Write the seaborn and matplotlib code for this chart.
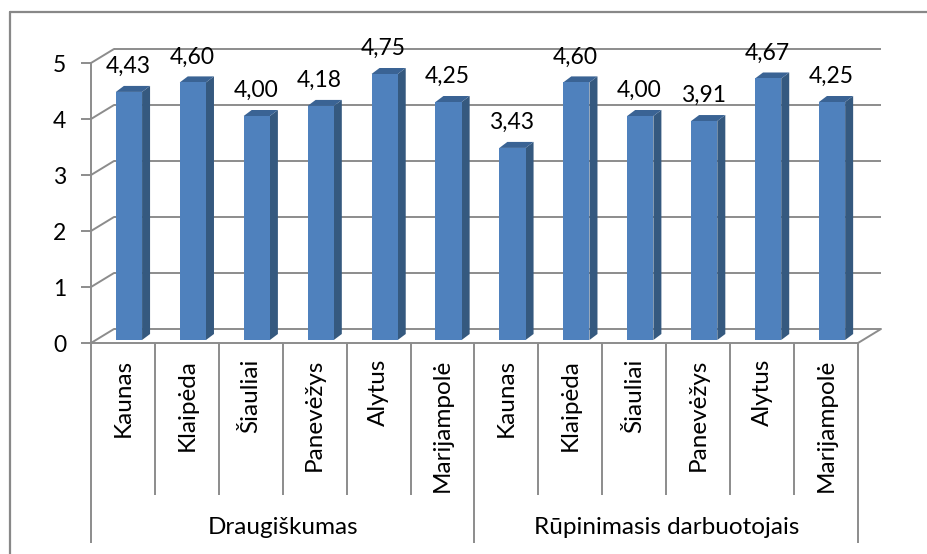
import numpy as np
import pandas as pd
import matplotlib
matplotlib.use("Agg")
import matplotlib.pyplot as plt
import seaborn as sns
from matplotlib.transforms import ScaledTranslation, blended_transform_factory
from matplotlib.patches import Polygon
from matplotlib.lines import Line2D

# ---- data -------------------------------------------------------------
groups = ["Draugiškumas", "Rūpinimasis darbuotojais"]
cities = ["Kaunas", "Klaipėda", "Šiauliai", "Panevėžys", "Alytus", "Marijampolė"]
draugiskumas = [4.43, 4.60, 4.00, 4.18, 4.75, 4.25]
rupinimasis = [3.43, 4.60, 4.00, 3.91, 4.67, 4.25]
y_ticks = [0, 1, 2, 3, 4, 5]

# ---- style ------------------------------------------------------------
W, H, DPI = 927, 554, 100
FRONT = "#4F81BD"
SIDE = "#35597F"
TOP = "#3A6394"
GRID = "#8C8C8C"
FS_NUM = 16.5
FS_TXT = 17.5

sns.set_theme(style="white")
plt.rcParams["font.family"] = ["Lato", "DejaVu Sans"]

df = pd.DataFrame({
    "group": np.repeat(groups, len(cities)),
    "city": cities * len(groups),
    "value": draugiskumas + rupinimasis,
})
df["key"] = df["group"] + " / " + df["city"]
n = len(df)

fig = plt.figure(figsize=(W / DPI, H / DPI), dpi=DPI)
fig.patch.set_facecolor("white")

# front plane of the 3-D box, in pixels
X0, X1, Y0, Y1 = 91, 858, 343, 63
ax = fig.add_axes([X0 / W, 1 - Y0 / H, (X1 - X0) / W, (Y0 - Y1) / H])
ax.patch.set_alpha(0)


def px(dx, dy):
    """Offset by a number of pixels (right, up)."""
    return ScaledTranslation(dx / DPI, dy / DPI, fig.dpi_scale_trans)


sns.barplot(data=df, x="key", y="value", color=FRONT, saturation=1,
            width=0.41, errorbar=None, ax=ax, zorder=5)
ax.set_xlim(-0.5, n - 0.5)
ax.set_ylim(y_ticks[0], y_ticks[-1])

# depth of the box (back wall offset) and of each column
DEPTH = (23, 14)
BAR_SHIFT = (6, 3)
BAR_DEPTH = (8, 6)
px_per_x = (X1 - X0) / n
px_per_y = (Y0 - Y1) / (y_ticks[-1] - y_ticks[0])
ddx = BAR_DEPTH[0] / px_per_x
ddy = BAR_DEPTH[1] / px_per_y

line_kw = dict(color=GRID, lw=1.4, clip_on=False, solid_capstyle="butt")

# back wall gridlines
for v in y_ticks:
    ax.plot([-0.5, n - 0.5], [v, v], transform=ax.transData + px(*DEPTH),
            zorder=1, **line_kw)
    # side wall diagonals
    ax.annotate("", xy=(-0.5, v), xytext=DEPTH, textcoords="offset pixels",
                arrowprops=dict(arrowstyle="-", color=GRID, lw=1.4,
                                shrinkA=0, shrinkB=0), zorder=1)
# right edge of the floor
ax.annotate("", xy=(n - 0.5, 0), xytext=DEPTH, textcoords="offset pixels",
            arrowprops=dict(arrowstyle="-", color=GRID, lw=1.4,
                            shrinkA=0, shrinkB=0), zorder=1)

# columns: shift the front faces into the box and add side / top faces
bar_trans = ax.transData + px(*BAR_SHIFT)
for p, v in zip(ax.patches, df["value"]):
    p.set_transform(bar_trans)
    p.set_linewidth(0)
    x0 = p.get_x()
    x1 = x0 + p.get_width()
    h = p.get_height()
    side = Polygon([(x1, 0), (x1 + ddx, ddy), (x1 + ddx, h + ddy), (x1, h)],
                   closed=True, facecolor=SIDE, edgecolor="none",
                   transform=bar_trans, zorder=4)
    top = Polygon([(x0, h), (x1, h), (x1 + ddx, h + ddy), (x0 + ddx, h + ddy)],
                  closed=True, facecolor=TOP, edgecolor="none",
                  transform=bar_trans, zorder=4)
    ax.add_patch(side)
    ax.add_patch(top)
    ax.annotate(f"{v:.2f}".replace(".", ","), xy=(x0 + p.get_width() / 2, h),
                xytext=(BAR_SHIFT[0] - 1, BAR_SHIFT[1] + 19),
                textcoords="offset pixels", ha="center", va="baseline",
                fontsize=FS_NUM, color="black", zorder=6)

# axes frame
for s in ("top", "right"):
    ax.spines[s].set_visible(False)
for s in ("left", "bottom"):
    ax.spines[s].set_color(GRID)
    ax.spines[s].set_linewidth(1.4)
    ax.spines[s].set_zorder(2)

ax.set_yticks(y_ticks, labels=[str(t) for t in y_ticks])
ax.tick_params(axis="y", length=10 * 72 / DPI, width=1.4, color=GRID,
               pad=15 * 72 / DPI, labelsize=FS_NUM, labelcolor="black", left=True)
ax.set_xticks(range(n), labels=cities * len(groups), rotation=90)
ax.tick_params(axis="x", length=0, pad=16 * 72 / DPI, labelsize=FS_TXT,
               labelcolor="black")
ax.set_xlabel("")
ax.set_ylabel("")

# category dividers and group labels below the axis
div_trans = blended_transform_factory(ax.transData, fig.transFigure)
group_bounds = [-0.5 + len(cities) * i for i in range(len(groups) + 1)]
for xb in np.arange(-0.5, n, 1.0):
    y_end = 543 if xb in group_bounds else 495
    ax.plot([xb, xb], [1 - Y0 / H, 1 - y_end / H], transform=div_trans, **line_kw)
for i, g in enumerate(groups):
    cx = (group_bounds[i] + group_bounds[i + 1]) / 2
    ax.text(cx, 1 - 528 / H, g, transform=div_trans, ha="center",
            va="center", fontsize=FS_TXT, color="black")

# chart area border
fig.add_artist(Line2D([10 / W, 1], [1 - 12 / H] * 2, transform=fig.transFigure,
                      color="#888888", lw=1.6))
fig.add_artist(Line2D([10 / W] * 2, [1 - 12 / H, 0], transform=fig.transFigure,
                      color="#888888", lw=1.6))

fig.savefig("out.png", dpi=DPI, facecolor="white")
